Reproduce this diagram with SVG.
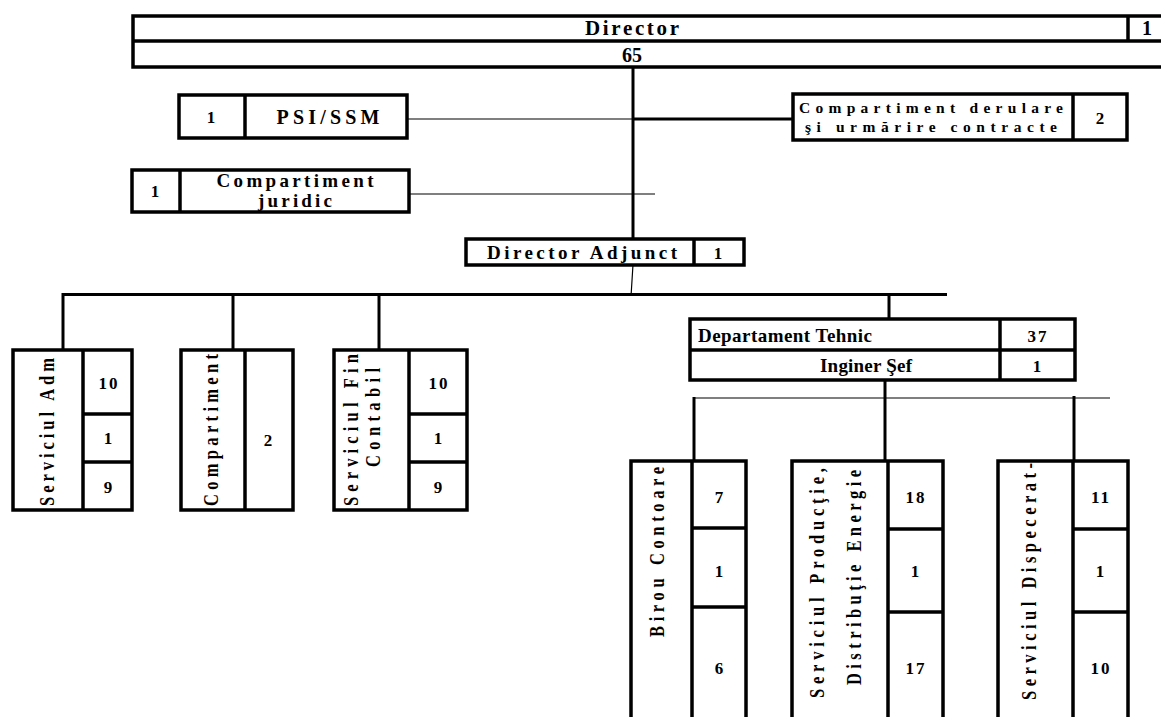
<svg xmlns="http://www.w3.org/2000/svg" width="1161" height="717" viewBox="0 0 1161 717">
<style>
.b{fill:#fff;stroke:#000;stroke-width:3.5}
.d{stroke:#000;stroke-width:3.5;fill:none}
.t{font-family:"Liberation Serif","Times New Roman",serif;font-weight:bold;fill:#000}
.h{font-size:19px;text-anchor:middle}
.s{font-size:15.5px;text-anchor:middle}
.n{font-size:17px;text-anchor:middle;letter-spacing:2px}
.v{font-size:16.5px}
.thin{stroke:#000;stroke-width:1.2;fill:none}
.thick{stroke:#000;stroke-width:3;fill:none}
</style>
<rect width="1161" height="717" fill="#fff"/>
<g id="connectors">
<line class="thick" x1="633" y1="67" x2="633" y2="239"/>
<line class="thin" x1="407" y1="119" x2="633" y2="119"/>
<line class="thick" x1="633" y1="119" x2="793" y2="119"/>
<line class="thin" x1="409" y1="194" x2="655" y2="194"/>
<line class="thin" x1="633" y1="265" x2="631" y2="296"/>
<line class="thick" x1="62" y1="294.5" x2="947" y2="294.5"/>
<line class="thick" x1="63" y1="293" x2="63" y2="350"/>
<line class="thick" x1="233" y1="293" x2="233" y2="350"/>
<line class="thick" x1="379" y1="293" x2="379" y2="350"/>
<line class="thick" x1="889" y1="293" x2="889" y2="319"/>
<line class="thick" x1="885" y1="380" x2="885" y2="461"/>
<line class="thin" x1="694" y1="398" x2="1110" y2="398"/>
<line class="thick" x1="694" y1="397" x2="694" y2="461"/>
<line class="thick" x1="1074" y1="396" x2="1074" y2="461"/>
</g>
<g id="director">
<rect class="b" x="133" y="16" width="1040" height="51"/>
<line class="d" x1="133" y1="41" x2="1173" y2="41"/>
<line class="d" x1="1128" y1="16" x2="1128" y2="41"/>
<text class="t h" x="632" y="35" style="font-size:21px" textLength="94" lengthAdjust="spacing">Director</text>
<text class="t h" x="1147" y="35" style="font-size:20px">1</text>
<text class="t h" x="632" y="62" style="font-size:20px">65</text>
</g>
<g id="psi">
<rect class="b" x="179" y="95" width="228" height="43"/>
<line class="d" x1="245" y1="95" x2="245" y2="138"/>
<text class="t n" x="212" y="123">1</text>
<text class="t h" x="328" y="124" style="font-size:20px" textLength="103" lengthAdjust="spacing">PSI/SSM</text>
</g>
<g id="juridic">
<rect class="b" x="132" y="170" width="277" height="42"/>
<line class="d" x1="180" y1="170" x2="180" y2="212"/>
<text class="t n" x="156" y="197">1</text>
<text class="t h" x="295" y="187" textLength="157" lengthAdjust="spacing">Compartiment</text>
<text class="t h" x="295" y="207" textLength="74" lengthAdjust="spacing">juridic</text>
</g>
<g id="derulare">
<rect class="b" x="793" y="94" width="334" height="46"/>
<line class="d" x1="1073" y1="94" x2="1073" y2="140"/>
<text class="t s" x="931" y="113" textLength="264" lengthAdjust="spacing">Compartiment derulare</text>
<text class="t s" x="931" y="132" textLength="252" lengthAdjust="spacing">şi urmărire contracte</text>
<text class="t n" x="1101" y="124">2</text>
</g>
<g id="director-adjunct">
<rect class="b" x="466" y="239" width="278" height="26"/>
<line class="d" x1="694" y1="239" x2="694" y2="265"/>
<text class="t h" x="582" y="259" textLength="190" lengthAdjust="spacing">Director Adjunct</text>
<text class="t n" x="719" y="259">1</text>
</g>
<g id="serviciul-adm">
<rect class="b" x="13" y="350" width="119" height="160"/>
<line class="d" x1="83" y1="350" x2="83" y2="510"/>
<line class="d" x1="83" y1="414" x2="132" y2="414"/>
<line class="d" x1="83" y1="462" x2="132" y2="462"/>
<text class="t v" transform="translate(54,506) rotate(-90) scale(1,1.3)" textLength="148" lengthAdjust="spacing">Serviciul Adm</text>
<text class="t n" x="109" y="389">10</text>
<text class="t n" x="109" y="444">1</text>
<text class="t n" x="109" y="493">9</text>
</g>
<g id="compartiment">
<rect class="b" x="181" y="350" width="112" height="160"/>
<line class="d" x1="245" y1="350" x2="245" y2="510"/>
<text class="t v" transform="translate(218,506) rotate(-90) scale(1,1.3)" textLength="152" lengthAdjust="spacing">Compartiment</text>
<text class="t n" x="269" y="446">2</text>
</g>
<g id="serviciul-fin">
<rect class="b" x="334" y="350" width="133" height="160"/>
<line class="d" x1="409" y1="350" x2="409" y2="510"/>
<line class="d" x1="409" y1="414" x2="467" y2="414"/>
<line class="d" x1="409" y1="462" x2="467" y2="462"/>
<text class="t v" transform="translate(358,506) rotate(-90) scale(1,1.3)" textLength="152" lengthAdjust="spacing">Serviciul Fin</text>
<text class="t v" transform="translate(380,467) rotate(-90) scale(1,1.3)" textLength="99" lengthAdjust="spacing">Contabil</text>
<text class="t n" x="439" y="389">10</text>
<text class="t n" x="439" y="444">1</text>
<text class="t n" x="439" y="493">9</text>
</g>
<g id="departament-tehnic">
<rect class="b" x="690" y="319" width="385" height="61"/>
<line class="d" x1="690" y1="350" x2="1075" y2="350"/>
<line class="d" x1="1000" y1="319" x2="1000" y2="380"/>
<text class="t h" x="785" y="342" textLength="174" lengthAdjust="spacing">Departament Tehnic</text>
<text class="t n" x="1038" y="342">37</text>
<text class="t h" x="866" y="372" textLength="92" lengthAdjust="spacing">Inginer Şef</text>
<text class="t n" x="1038" y="372">1</text>
</g>
<g id="birou-contoare">
<rect class="b" x="631" y="461" width="115" height="270"/>
<line class="d" x1="692" y1="461" x2="692" y2="731"/>
<line class="d" x1="692" y1="528" x2="746" y2="528"/>
<line class="d" x1="692" y1="607" x2="746" y2="607"/>
<text class="t v" transform="translate(664,637) rotate(-90) scale(1,1.3)" textLength="170" lengthAdjust="spacing">Birou Contoare</text>
<text class="t n" x="720" y="503">7</text>
<text class="t n" x="720" y="577">1</text>
<text class="t n" x="720" y="674">6</text>
</g>
<g id="serviciul-productie">
<rect class="b" x="792" y="461" width="151" height="270"/>
<line class="d" x1="888" y1="461" x2="888" y2="731"/>
<line class="d" x1="888" y1="529" x2="943" y2="529"/>
<line class="d" x1="888" y1="612" x2="943" y2="612"/>
<text class="t v" transform="translate(824,698) rotate(-90) scale(1,1.3)" textLength="230" lengthAdjust="spacing">Serviciul Producţie,</text>
<text class="t v" transform="translate(861,685) rotate(-90) scale(1,1.3)" textLength="215" lengthAdjust="spacing">Distribuţie Energie</text>
<text class="t n" x="916" y="503">18</text>
<text class="t n" x="916" y="577">1</text>
<text class="t n" x="916" y="674">17</text>
</g>
<g id="serviciul-dispecerat">
<rect class="b" x="998" y="461" width="130" height="270"/>
<line class="d" x1="1073" y1="461" x2="1073" y2="731"/>
<line class="d" x1="1073" y1="529" x2="1128" y2="529"/>
<line class="d" x1="1073" y1="612" x2="1128" y2="612"/>
<text class="t v" transform="translate(1036,700) rotate(-90) scale(1,1.3)" textLength="237" lengthAdjust="spacing">Serviciul Dispecerat-</text>
<text class="t n" x="1101" y="503">11</text>
<text class="t n" x="1101" y="577">1</text>
<text class="t n" x="1101" y="674">10</text>
</g>
</svg>
